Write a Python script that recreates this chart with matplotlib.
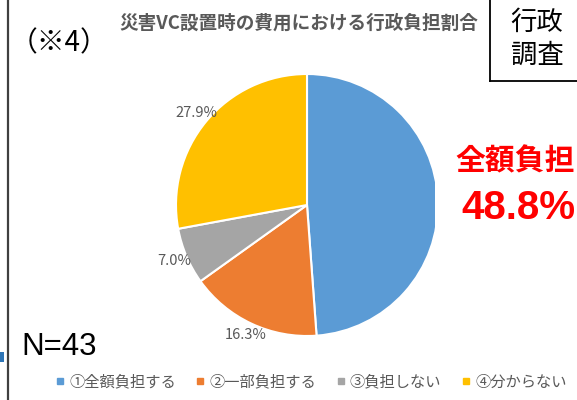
import matplotlib
matplotlib.use('Agg')
import numpy as np
from matplotlib import pyplot as plt
from matplotlib.lines import Line2D
from matplotlib.patches import Rectangle

plt.rcParams['font.family'] = ['Noto Sans CJK JP', 'DejaVu Sans']

# データ（N=43 の回答数）
categories = ['①全額負担する', '②一部負担する', '③負担しない', '④分からない']
counts = [21, 7, 3, 12]
colors = ['#5B9BD5', '#ED7D31', '#A5A5A5', '#FFC000']
title = '災害VC設置時の費用における行政負担割合'
note = '（※4）'
box_lines = ['行政', '調査']
highlight = '全額負担'

W, H = 577, 400
GRAY = '#595959'


def fx(x):
    return x / W


def fy(y):
    return 1 - y / H


fig = plt.figure(figsize=(W / 100, H / 100), dpi=100)

# 円グラフ
cx, cy, r = 307, 205, 131
ax = fig.add_axes([fx(cx - r), fy(cy + r), 2 * r / W, 2 * r / H])
wedges = ax.pie(counts, colors=colors, startangle=90, counterclock=False,
                wedgeprops=dict(edgecolor='white', linewidth=1.5))[0]
total = sum(counts)
pcts = [c / total * 100 for c in counts]

# ラベル（①は右側の赤字で表示）
for i, w in enumerate(wedges):
    if i == 0:
        continue
    mid = np.deg2rad((w.theta1 + w.theta2) / 2)
    ax.text(1.1 * np.cos(mid), 1.1 * np.sin(mid), '%.1f%%' % pcts[i],
            ha='center', va='center', fontsize=10.5, color=GRAY)
ax.set_xlim(-1, 1)
ax.set_ylim(-1, 1)

# 右側の白い領域（円の一部が隠れている）
fig.add_artist(Rectangle((fx(435), fy(236)), fx(577 - 435), (236 - 130) / H,
                         transform=fig.transFigure, facecolor='white', edgecolor='none', zorder=2))

fig.text(fx(455), fy(161), highlight, fontsize=21.5, fontweight='bold', color='#FF0000',
         ha='left', va='center', zorder=3)
fig.text(fx(461), fy(208), '%.1f%%' % pcts[0], fontsize=29, fontweight='bold', color='#FF0000',
         family='Liberation Sans', ha='left', va='center', zorder=3)

# タイトル・注記
fig.text(fx(119), fy(23), title, fontsize=13.4, fontweight='bold', color=GRAY, ha='left', va='center')
fig.text(fx(10), fy(43), note, fontsize=20, color='black', ha='left', va='center')
fig.text(fx(21), fy(347), 'N=%d' % total, fontsize=22.5, family='Liberation Sans',
         color='black', ha='left', va='center')

# 右上の枠
fig.add_artist(Line2D([fx(490), fx(490)], [fy(0), fy(81)], color='black', linewidth=1.3))
fig.add_artist(Line2D([fx(490), fx(577)], [fy(81), fy(81)], color='black', linewidth=1.3))
fig.text(fx(537), fy(22), box_lines[0], fontsize=19, ha='center', va='center')
fig.text(fx(537), fy(55), box_lines[1], fontsize=19, ha='center', va='center')

# 左端の線
fig.add_artist(Line2D([fx(8), fx(8)], [0, 1], color='#404040', linewidth=1.6))
fig.add_artist(Rectangle((0, fy(362)), fx(4), 10 / H, transform=fig.transFigure,
                         facecolor='#2E75B6', edgecolor='none'))

# 凡例
handles = [Line2D([], [], marker='s', linestyle='', markersize=5, color=c) for c in colors]
fig.legend(handles, categories, loc='center', bbox_to_anchor=(fx(311), fy(382)), ncol=4,
           frameon=False, fontsize=11, labelcolor=GRAY, handlelength=0.6,
           handletextpad=0.3, columnspacing=1.3, borderaxespad=0)

fig.savefig('out.png', dpi=100)
